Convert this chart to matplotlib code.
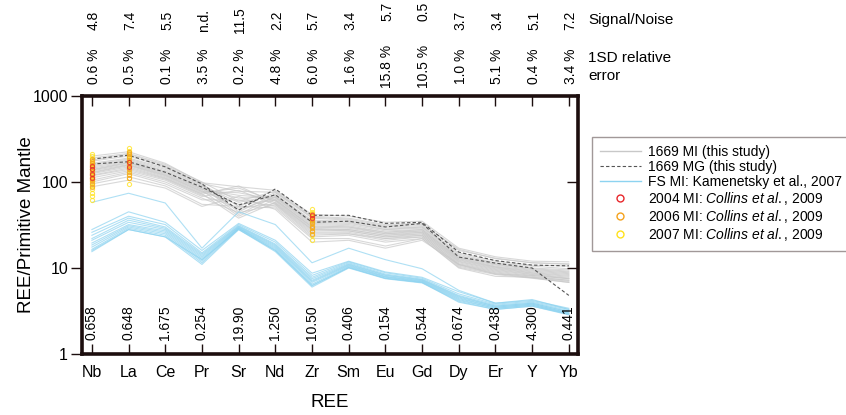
import numpy as np
import matplotlib
matplotlib.use("Agg")
import matplotlib.pyplot as plt
from matplotlib.lines import Line2D
from matplotlib.legend_handler import HandlerLine2D
from matplotlib.transforms import blended_transform_factory

plt.rcParams['font.family'] = ['Liberation Sans', 'DejaVu Sans']
plt.rcParams['mathtext.fontset'] = 'custom'
plt.rcParams['mathtext.rm'] = 'Liberation Sans'
plt.rcParams['mathtext.it'] = 'Liberation Sans:italic'

ELEMENTS = ['Nb', 'La', 'Ce', 'Pr', 'Sr', 'Nd', 'Zr', 'Sm', 'Eu', 'Gd', 'Dy', 'Er', 'Y', 'Yb']
SIGNAL_NOISE = ['4.8', '7.4', '5.5', 'n.d.', '11.5', '2.2', '5.7', '3.4', '5.7', '0.5', '3.7', '3.4', '5.1', '7.2']
REL_ERROR = ['0.6 %', '0.5 %', '0.1 %', '3.5 %', '0.2 %', '4.8 %', '6.0 %', '1.6 %', '15.8 %', '10.5 %',
             '1.0 %', '5.1 %', '0.4 %', '3.4 %']
PM_VALUES = ['0.658', '0.648', '1.675', '0.254', '19.90', '1.250', '10.50', '0.406', '0.154', '0.544',
             '0.674', '0.438', '4.300', '0.441']

# 1669 melt inclusions, normalised to primitive mantle
MI_1669 = [
    [190, 215, 160, 100, 60, 78, 40, 38, 32, 33, 16, 13, 11.5, 11],
    [175, 200, 150, 95, 52, 75, 38, 36, 30, 31, 15, 12, 10.8, 10.5],
    [165, 190, 145, 92, 45, 72, 36, 35, 29, 30, 14.5, 11.5, 10.5, 9.8],
    [160, 185, 140, 90, 58, 70, 35, 34, 28, 30, 14, 11.2, 10, 9.5],
    [155, 180, 135, 88, 42, 68, 34, 33, 28, 29, 13.5, 11, 9.8, 9.2],
    [150, 175, 132, 85, 65, 67, 33, 32, 27, 28, 13.2, 10.8, 9.6, 9.0],
    [145, 170, 128, 83, 48, 66, 32, 31, 26, 28, 13, 10.5, 9.4, 8.8],
    [140, 168, 125, 82, 70, 65, 31, 30, 26, 27, 12.8, 10.3, 9.2, 8.6],
    [138, 165, 122, 80, 40, 63, 30, 30, 25, 27, 12.5, 10.2, 9.0, 8.4],
    [135, 160, 120, 78, 75, 62, 30, 29, 25, 26, 12.3, 10, 8.8, 8.2],
    [130, 158, 118, 77, 55, 61, 29, 28, 24, 26, 12, 9.8, 8.7, 8.0],
    [128, 155, 115, 75, 85, 60, 28, 28, 24, 25, 11.8, 9.6, 8.5, 7.8],
    [125, 150, 112, 73, 38, 58, 28, 27, 23, 25, 11.5, 9.4, 8.4, 7.6],
    [120, 145, 110, 72, 90, 57, 27, 27, 23, 24, 11.2, 9.2, 8.2, 7.5],
    [118, 140, 108, 70, 50, 56, 26, 26, 22, 24, 11, 9, 8, 7.2],
    [112, 135, 105, 68, 80, 55, 25, 25, 22, 23, 10.8, 8.8, 7.8, 7.0],
    [105, 130, 100, 65, 44, 54, 24, 25, 21, 23, 10.5, 8.6, 7.7, 6.8],
    [100, 125, 95, 62, 62, 52, 23, 24, 20, 22, 10.2, 8.4, 7.6, 6.8],
    [95, 115, 90, 55, 52, 50, 22, 22, 18, 22, 10, 8, 7.8, 7.2],
    [88, 105, 85, 52, 68, 48, 20, 21, 17, 21, 11, 8.5, 8.2, 7.5],
    [200, 225, 165, 98, 88, 80, 42, 40, 34, 35, 17, 13.5, 12, 11.8],
    [180, 210, 155, 96, 78, 76, 39, 37, 31, 32, 16.5, 12.8, 11.5, 11.2],
]

# 1669 matrix glass
MG_1669 = [
    [185, 205, 150, 95, 47, 83, 41, 41, 33, 34, 15.3, 12.2, 10.8, 10.6],
    [162, 172, 130, 87, 54, 71, 34, 35, 30, 33, 13.4, 11.4, 10.0, 4.8],
]

# FS melt inclusions (Kamenetsky et al., 2007)
FS_MI = [
    [58, 74, 57, 17, 45, 32, 11.5, 17, 12.5, 9.8, 5.5, 3.9, 4.3, 3.3],
    [28, 45, 34, 16, 33, 21, 8.7, 12, 9, 7.8, 5.3, 3.9, 4.2, 3.4],
    [26, 40, 32, 15, 32, 20, 8.2, 11.8, 8.8, 7.6, 5.0, 3.8, 4.1, 3.3],
    [24, 38, 30, 14.5, 31, 19, 7.8, 11.5, 8.5, 7.4, 4.8, 3.7, 4.0, 3.2],
    [22, 36, 29, 14, 30.5, 18.5, 7.5, 11.2, 8.3, 7.3, 4.7, 3.6, 3.9, 3.1],
    [21, 34, 28, 13.5, 30, 18, 7.2, 11, 8.2, 7.2, 4.6, 3.6, 3.9, 3.1],
    [19.5, 32, 27, 13, 29.5, 17.5, 7, 10.8, 8, 7.1, 4.5, 3.5, 3.8, 3.0],
    [18.5, 31, 26, 12.5, 29, 17, 6.8, 10.6, 7.9, 7.0, 4.4, 3.5, 3.8, 3.0],
    [17.5, 30, 25, 12, 29, 16.5, 6.5, 10.4, 7.8, 6.9, 4.3, 3.4, 3.7, 2.95],
    [16.5, 29, 24, 11.5, 28.5, 16, 6.2, 10.2, 7.6, 6.8, 4.2, 3.4, 3.7, 2.9],
    [16, 28, 23, 11, 28, 15.5, 6.0, 10, 7.5, 6.7, 4.1, 3.3, 3.6, 2.9],
    [15.5, 28, 23, 12.5, 28, 16, 6.3, 10.1, 7.6, 6.8, 4.0, 3.3, 3.6, 2.85],
]

# Collins et al. (2009) inclusions, only Nb, La and Zr reported
COLLINS_2007 = {
    'Nb': [62, 68, 75, 82, 90, 98, 105, 112, 120, 130, 140, 150, 160, 172, 185, 198, 212],
    'La': [95, 110, 125, 140, 155, 170, 185, 200, 215, 232, 248],
    'Zr': [21, 24, 27, 30, 33, 36, 39, 42, 45, 48],
}
COLLINS_2006 = {
    'Nb': [88, 95, 102, 108, 115, 122, 128, 135, 142, 150, 158, 165, 175, 185],
    'La': [112, 122, 132, 142, 152, 162, 172, 182, 195, 210, 225],
    'Zr': [25, 27, 29, 31, 33, 35, 37, 40, 43],
}
COLLINS_2004 = {
    'Nb': [110, 125, 140, 155],
    'La': [150, 170],
    'Zr': [38, 41],
}

GREY = '#c8c8c8'
BLUE = '#8dd3f0'
DASH = '#555555'
SPINE = '#1c0e0e'
C_2004 = '#e8262b'
C_2006 = '#f5a21c'
C_2007 = '#ffe21a'


class RightMarkerHandler(HandlerLine2D):
    """Puts the legend marker near the right end of the handle."""
    def get_xdata(self, legend, xdescent, ydescent, width, height, fontsize):
        xdata = [-xdescent, -xdescent + width]
        return xdata, [-xdescent + 0.82 * width]


x = np.arange(len(ELEMENTS))

fig = plt.figure(figsize=(8.46, 4.15), dpi=100)
ax = fig.add_axes([82 / 846, 1 - 354 / 415, 496 / 846, 258 / 415])

for row in MI_1669:
    ax.plot(x, row, color=GREY, lw=0.8, alpha=0.7, zorder=2)
for row in FS_MI:
    ax.plot(x, row, color=BLUE, lw=0.8, alpha=0.7, zorder=2)
for row in MG_1669:
    ax.plot(x, row, color=DASH, lw=0.8, ls=(0, (3, 2)), zorder=3)

for data, col in [(COLLINS_2007, C_2007), (COLLINS_2006, C_2006), (COLLINS_2004, C_2004)]:
    for el, vals in data.items():
        xi = ELEMENTS.index(el)
        ax.plot([xi] * len(vals), vals, 'o', mfc='none', mec=col, ms=3.0, mew=0.8,
                alpha=0.75, zorder=4)

ax.set_yscale('log')
ax.set_ylim(1, 1000)
ax.set_xlim(-0.27, 13.25)
ax.yaxis.set_minor_locator(matplotlib.ticker.NullLocator())
ax.set_yticks([1, 10, 100, 1000])
ax.set_yticklabels(['1', '10', '100', '1000'], fontsize=11.5)
ax.set_xticks(x)
ax.set_xticklabels(ELEMENTS, fontsize=11.5)

ax.tick_params(axis='x', which='major', direction='in', top=True, bottom=True,
               length=7, width=1, color=SPINE, pad=8)
ax.tick_params(axis='y', which='major', direction='out', left=True, right=False,
               length=8, width=1, color=SPINE, pad=2)
for val in [10, 100]:
    ax.plot([1], [val], marker=matplotlib.markers.TICKLEFT, ms=8, mew=1, color=SPINE,
            transform=blended_transform_factory(ax.transAxes, ax.transData), clip_on=False)

for sp in ax.spines.values():
    sp.set_linewidth(2.6)
    sp.set_color(SPINE)

ax.set_xlabel('REE', fontsize=13.5, labelpad=10)
ax.set_ylabel('REE/Primitive Mantle', fontsize=13.5, labelpad=-2)

# primitive mantle normalising values along the bottom
bottom_tr = blended_transform_factory(ax.transData, ax.transAxes)
for xi, txt in zip(x, PM_VALUES):
    ax.text(xi, 0.12, txt, rotation=90, ha='center', va='center', fontsize=10,
            transform=bottom_tr)

# analytical quality rows above the plot
top_tr = blended_transform_factory(ax.transData, fig.transFigure)
for xi, sn, err in zip(x, SIGNAL_NOISE, REL_ERROR):
    y_sn = 1 - 20 / 415 if len(err) < 6 else 1 - 11 / 415
    ax.text(xi + 0.05, y_sn, sn, rotation=90, ha='center', va='center', fontsize=10,
            transform=top_tr, clip_on=False)
    ax.text(xi + 0.05, 1 - 66 / 415, err, rotation=90, ha='center', va='center', fontsize=10,
            transform=top_tr, clip_on=False)
fig.text(588 / 846, 1 - 20 / 415, 'Signal/Noise', fontsize=11, va='center')
fig.text(588 / 846, 1 - 58 / 415, '1SD relative', fontsize=11, va='center')
fig.text(588 / 846, 1 - 76 / 415, 'error', fontsize=11, va='center')

collins = r'$\mathit{Collins\ et\ al.{,}\ 2009}$'
handles = [
    Line2D([], [], color=GREY, lw=1),
    Line2D([], [], color=DASH, lw=0.8, ls=(0, (3, 2))),
    Line2D([], [], color=BLUE, lw=1),
    Line2D([], [], ls='none', marker='o', mfc='none', mec=C_2004, ms=5, mew=1),
    Line2D([], [], ls='none', marker='o', mfc='none', mec=C_2006, ms=5, mew=1),
    Line2D([], [], ls='none', marker='o', mfc='none', mec=C_2007, ms=5, mew=1),
]
labels = ['1669 MI (this study)', '1669 MG (this study)', 'FS MI: Kamenetsky et al., 2007',
          '2004 MI: ' + collins, '2006 MI: ' + collins, '2007 MI: ' + collins]
leg = fig.legend(handles, labels, loc='upper left', bbox_to_anchor=(592 / 846, 1 - 137 / 415),
                 fontsize=10, frameon=True, fancybox=False, edgecolor='#8a7f7f',
                 handlelength=3.0, handletextpad=0.5, labelspacing=0.08, borderpad=0.55,
                 borderaxespad=0, numpoints=1,
                 handler_map={h: RightMarkerHandler() for h in handles[3:]})
leg.get_frame().set_linewidth(1.0)

fig.savefig('out.png', dpi=100)
